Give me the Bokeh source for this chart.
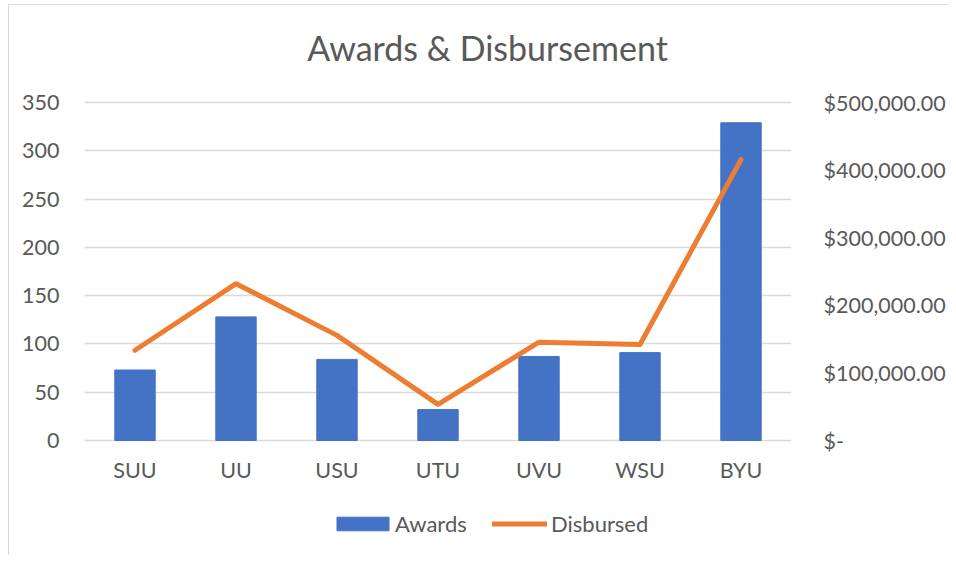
from bokeh.plotting import figure
from bokeh.models import (ColumnDataSource, Range1d, LinearAxis, FixedTicker,
                          CustomJSTickFormatter, Legend, LegendItem, FactorRange, Label)
from bokeh.embed import file_html
from bokeh.resources import INLINE

categories = ["SUU", "UU", "USU", "UTU", "UVU", "WSU", "BYU"]
awards = [73, 128, 84, 32, 87, 91, 329]
disbursed = [133500, 232000, 155500, 53500, 145500, 142000, 415500]
left_ticks = [0, 50, 100, 150, 200, 250, 300, 350]
right_ticks = [0, 100000, 200000, 300000, 400000, 500000]

FONT = "Lato"
GREY = "#595959"
TICK_SIZE = "21.5px"
LEG_SIZE = "22px"

# layout (figure pixels): frame spans whole chart height so title/legend sit inside it
W, H = 948, 555
FT, FB = 10, 545            # frame top / bottom
Y_TOP_PX, Y_ZERO_PX = 102, 440   # where the top tick and zero sit
left_max, right_max = left_ticks[-1], right_ticks[-1]

def rng(vmax):
    per = vmax / (Y_ZERO_PX - Y_TOP_PX)
    return Range1d(-(FB - Y_ZERO_PX) * per, vmax + (Y_TOP_PX - FT) * per)

src = ColumnDataSource(dict(cat=categories, awards=awards, disbursed=disbursed))

p = figure(x_range=FactorRange(*categories, range_padding=0), y_range=rng(left_max),
           width=W, height=H, output_backend="svg", toolbar_location=None,
           min_border_left=84, min_border_right=152, min_border_top=FT,
           min_border_bottom=H - FB)
p.border_fill_color = None
p.background_fill_color = None
p.styles = {
    "background-color": "white",
    "background-image": "linear-gradient(#d9d9d9, #d9d9d9), linear-gradient(#d9d9d9, #d9d9d9)",
    "background-size": "1px 100%, 100% 1px",
    "background-position": "8px 4px, 8px 4px",
    "background-repeat": "no-repeat",
}
p.outline_line_color = None
p.extra_y_ranges = {"money": rng(right_max)}

bars = p.vbar(x="cat", top="awards", width=0.4, source=src, color="#4472C4")
line = p.line(x="cat", y="disbursed", source=src, y_range_name="money",
              line_color="#ED7D31", line_width=5, line_cap="round", line_join="round")

# left axis
ax = p.yaxis[0]
ax.ticker = FixedTicker(ticks=left_ticks)
ax.axis_line_color = None
ax.major_tick_line_color = None
ax.minor_tick_line_color = None
ax.major_label_text_font = FONT
ax.major_label_text_font_size = TICK_SIZE
ax.major_label_text_color = GREY
ax.major_label_standoff = 19

# right axis
rax = LinearAxis(y_range_name="money", ticker=FixedTicker(ticks=right_ticks))
rax.formatter = CustomJSTickFormatter(code="""
if (tick == 0) { return '$-'; }
return '$' + tick.toLocaleString('en-US', {minimumFractionDigits: 2, maximumFractionDigits: 2});
""")
rax.axis_line_color = None
rax.major_tick_line_color = None
rax.minor_tick_line_color = None
rax.major_label_text_font = FONT
rax.major_label_text_font_size = TICK_SIZE
rax.major_label_text_color = GREY
rax.major_label_standoff = 26
p.add_layout(rax, "right")

# x axis, pinned at zero
xa = p.xaxis[0]
xa.fixed_location = 0
xa.axis_line_color = None
xa.major_tick_line_color = None
xa.minor_tick_line_color = None
xa.major_label_text_font = FONT
xa.major_label_text_font_size = TICK_SIZE
xa.major_label_text_color = GREY
xa.major_label_standoff = 10

p.xgrid.grid_line_color = None
p.ygrid.ticker = FixedTicker(ticks=left_ticks)
p.ygrid.grid_line_color = "#d9d9d9"
p.ygrid.grid_line_width = 1.5

common = dict(orientation="horizontal", label_text_font=FONT, label_text_font_size=LEG_SIZE,
              label_text_color=GREY, padding=0, margin=0, border_line_color=None,
              background_fill_alpha=0)
leg_awards = Legend(items=[LegendItem(label="Awards", renderers=[bars])],
                    location=(246, 8), glyph_width=65, glyph_height=17, label_standoff=0,
                    **common)
leg_disb = Legend(items=[LegendItem(label="Disbursed", renderers=[line])],
                  location=(408, 8), glyph_width=55, glyph_height=17, label_standoff=4,
                  **common)
p.add_layout(leg_awards, "center")
p.add_layout(leg_disb, "center")

p.add_layout(Label(x=403, y=FB - 47, x_units="screen", y_units="screen",
                   text="Awards & Disbursement", text_font=FONT, text_font_size="34px",
                   text_color=GREY, text_align="center", text_baseline="middle"))

open("out.html", "w").write(file_html(p, INLINE))
